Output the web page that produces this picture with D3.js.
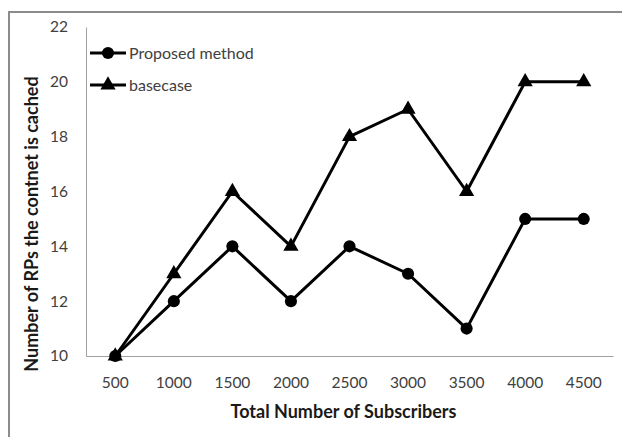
<!DOCTYPE html>
<html>
<head>
<meta charset="utf-8">
<script src="https://cdn.jsdelivr.net/npm/d3@7"></script>
<style>
  html, body { margin: 0; padding: 0; background: #fff; }
  svg { display: block; }
  text { font-family: Lato, "Open Sans", "Liberation Sans", sans-serif; }
</style>
</head>
<body>
<svg id="chart" width="622" height="437"></svg>
<script>
// Subscriber counts along the x axis
const subscribers = ["500", "1000", "1500", "2000", "2500", "3000", "3500", "4000", "4500"];
// Number of RPs caching the content, per approach
const proposedMethod = [10, 12, 14, 12, 14, 13, 11, 15, 15];
const basecase = [10, 13, 16, 14, 18, 19, 16, 20, 20];
const yTicks = [10, 12, 14, 16, 18, 20, 22];

const svg = d3.select("#chart");

// Chart frame (gray border along top and left)
svg.append("path")
  .attr("d", "M9,437 V12 H622")
  .attr("fill", "none")
  .attr("stroke", "#8c8c8c")
  .attr("stroke-width", 2);

const plot = { left: 86, right: 613, top: 27, bottom: 356 };

const x = d3.scaleBand()
  .domain(subscribers)
  .range([plot.left, plot.right]);

const y = d3.scaleLinear()
  .domain([10, 22])
  .range([plot.bottom, plot.top]);

// Y axis
const yAxis = svg.append("g")
  .attr("transform", `translate(${plot.left},0)`)
  .call(d3.axisLeft(y).tickValues(yTicks).tickSize(0).tickPadding(18).tickFormat(d3.format("d")));
yAxis.select(".domain").attr("stroke", "#a0a0a0").attr("stroke-width", 1);
yAxis.selectAll("text").attr("fill", "#404040").style("font-size", "15.5px");

// X axis
const xAxis = svg.append("g")
  .attr("transform", `translate(0,${plot.bottom})`)
  .call(d3.axisBottom(x).tickSize(0).tickPadding(21));
xAxis.select(".domain").attr("stroke", "#a0a0a0").attr("stroke-width", 1);
xAxis.selectAll("text").attr("fill", "#404040").style("font-size", "15.5px");

// Axis titles
svg.append("text")
  .attr("x", (plot.left + plot.right) / 2 - 6)
  .attr("y", 418)
  .attr("text-anchor", "middle")
  .attr("font-weight", "bold")
  .attr("fill", "#1a1a1a")
  .style("font-size", "18px")
  .text("Total Number of Subscribers");

svg.append("text")
  .attr("transform", "translate(38,224) rotate(-90)")
  .attr("text-anchor", "middle")
  .attr("font-weight", "bold")
  .attr("fill", "#1a1a1a")
  .style("font-size", "18px")
  .text("Number of RPs the contnet is cached");

const cx = d => x(d) + x.bandwidth() / 2;

const series = [
  { name: "Proposed method", values: proposedMethod, symbol: d3.symbolCircle, size: 115 },
  { name: "basecase", values: basecase, symbol: d3.symbolTriangle, size: 100 }
];

const line = d3.line()
  .x((d, i) => cx(subscribers[i]))
  .y(d => y(d));

// Draw basecase first so the proposed markers sit on top at the shared start
[series[1], series[0]].forEach(s => {
  svg.append("path")
    .datum(s.values)
    .attr("d", line)
    .attr("fill", "none")
    .attr("stroke", "#000")
    .attr("stroke-width", 3)
    .attr("stroke-linejoin", "round");

  svg.selectAll(null)
    .data(s.values)
    .enter()
    .append("path")
    .attr("transform", (d, i) => `translate(${cx(subscribers[i])},${y(d)})`)
    .attr("d", d3.symbol().type(s.symbol).size(s.size))
    .attr("fill", "#000");
});

// Legend
const legend = svg.append("g");
series.forEach((s, i) => {
  const ly = 53 + i * 32;
  legend.append("line")
    .attr("x1", 90).attr("x2", 126)
    .attr("y1", ly).attr("y2", ly)
    .attr("stroke", "#000").attr("stroke-width", 3);
  legend.append("path")
    .attr("transform", `translate(108,${ly})`)
    .attr("d", d3.symbol().type(s.symbol).size(s.size))
    .attr("fill", "#000");
  legend.append("text")
    .attr("x", 129)
    .attr("y", ly)
    .attr("dy", "0.35em")
    .attr("fill", "#404040")
    .style("font-size", "16px")
    .text(s.name);
});
</script>
</body>
</html>
